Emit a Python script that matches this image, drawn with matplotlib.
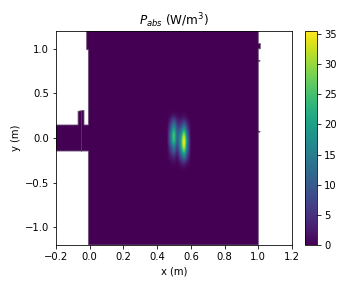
import matplotlib
matplotlib.use("Agg")
import matplotlib.pyplot as plt
import numpy as np
from matplotlib.patches import Polygon

title = r"$P_{abs}$ (W/m$^3$)"
xlabel = "x (m)"
ylabel = "y (m)"
x_ticks = [-0.2, 0.0, 0.2, 0.4, 0.6, 0.8, 1.0, 1.2]
y_ticks = [-1.0, -0.5, 0.0, 0.5, 1.0]
cbar_ticks = [0, 5, 10, 15, 20, 25, 30, 35]
vmax = 35.5

# Domain outline
boundary_x = [-0.2, -0.069, -0.069, -0.034, -0.034, -0.008, -0.008, -0.018, -0.018,
              1.0, 1.0, 1.012, 1.012, 1.0, 1.0, 1.012, 1.0, 1.0, 1.012, 1.0, 1.0,
              -0.008, -0.008, -0.2]
boundary_y = [0.146, 0.146, 0.30, 0.31, 0.146, 0.146, 0.99, 0.99, 1.2,
              1.2, 1.06, 1.06, 1.0, 1.0, 0.875, 0.865, 0.855, 0.08, 0.07, 0.06, -1.2,
              -1.2, -0.146, -0.146]
iris_x = [-0.05, -0.05]
iris_y = [0.30, -0.146]

# Absorbed power near the hot spot (rows top to bottom)
field_x = [0.44, 0.46, 0.48, 0.50, 0.52, 0.54, 0.56, 0.58, 0.60, 0.62]
field_y = [0.35, 0.30, 0.25, 0.20, 0.15, 0.10, 0.05, 0.00, -0.05, -0.10,
           -0.15, -0.20, -0.25, -0.30, -0.35, -0.40]
field = [
    [0, 0, 0.0, 0.1, 0.0, 0.0, 0.0, 0.0, 0, 0],
    [0, 0, 0.1, 0.3, 0.1, 0.1, 0.2, 0.1, 0, 0],
    [0, 0, 0.8, 2.0, 0.8, 0.6, 1.0, 0.4, 0, 0],
    [0, 0.1, 3.0, 7.0, 3.0, 2.4, 4.0, 1.6, 0.1, 0],
    [0, 0.3, 6.0, 13.0, 5.5, 5.5, 10.0, 4.0, 0.3, 0],
    [0, 0.5, 9.0, 19.0, 8.5, 10.5, 18.0, 7.0, 0.6, 0],
    [0, 0.7, 12.0, 24.0, 11.0, 15.5, 27.0, 10.5, 0.8, 0],
    [0, 0.8, 12.5, 25.0, 11.5, 19.0, 33.0, 13.0, 1.0, 0],
    [0, 0.7, 11.0, 22.0, 10.0, 20.0, 35.0, 14.0, 1.0, 0],
    [0, 0.5, 7.5, 15.0, 7.0, 18.5, 32.0, 12.5, 0.9, 0],
    [0, 0.3, 5.0, 10.0, 4.5, 14.5, 25.0, 10.0, 0.7, 0],
    [0, 0.2, 2.5, 5.0, 2.2, 9.0, 16.0, 6.5, 0.4, 0],
    [0, 0.1, 1.0, 2.0, 0.9, 4.5, 8.0, 3.2, 0.2, 0],
    [0, 0, 0.3, 0.7, 0.3, 1.4, 2.5, 1.0, 0.1, 0],
    [0, 0, 0.1, 0.1, 0.1, 0.3, 0.5, 0.2, 0, 0],
    [0, 0, 0.0, 0.0, 0.0, 0.0, 0.0, 0.0, 0, 0],
]

plt.rcParams["font.family"] = "DejaVu Sans"
plt.rcParams["font.size"] = 10
fig = plt.figure(figsize=(5, 4), dpi=72, facecolor="white")
ax = fig.add_axes([56 / 360, 1 - 245 / 288, 236 / 360, 214 / 288])
cax = fig.add_axes([305 / 360, 1 - 245 / 288, 12 / 360, 214 / 288])

cmap = plt.get_cmap("viridis")
edge = "#6b5577"
poly = Polygon(np.column_stack([boundary_x, boundary_y]), closed=True,
               facecolor=cmap(0.0), edgecolor=edge, linewidth=0.8, zorder=1)
ax.add_patch(poly)
dx = field_x[1] - field_x[0]
dy = abs(field_y[1] - field_y[0])
im = ax.imshow(np.array(field), cmap=cmap, vmin=0, vmax=vmax, interpolation="catrom",
               extent=[field_x[0] - dx / 2, field_x[-1] + dx / 2,
                       field_y[-1] - dy / 2, field_y[0] + dy / 2],
               origin="upper", aspect="auto", zorder=2)
ax.plot(iris_x, iris_y, color="#5a4a66", linewidth=0.7, zorder=3)

ax.set_xlim(-0.2, 1.2)
ax.set_ylim(-1.2, 1.2)
ax.set_xticks(x_ticks)
ax.set_yticks(y_ticks)
ax.tick_params(labelsize=10, length=3.5, width=0.8, pad=3.5)
ax.set_xlabel(xlabel, fontsize=10, labelpad=4)
ax.set_ylabel(ylabel, fontsize=10, labelpad=4)
ax.set_title(title, fontsize=12, pad=6)

cb = fig.colorbar(im, cax=cax)
cb.set_ticks(cbar_ticks)
cb.ax.tick_params(labelsize=10, length=3.5, width=0.8, pad=3.5)

fig.savefig("out.png", dpi=72, facecolor="white")
